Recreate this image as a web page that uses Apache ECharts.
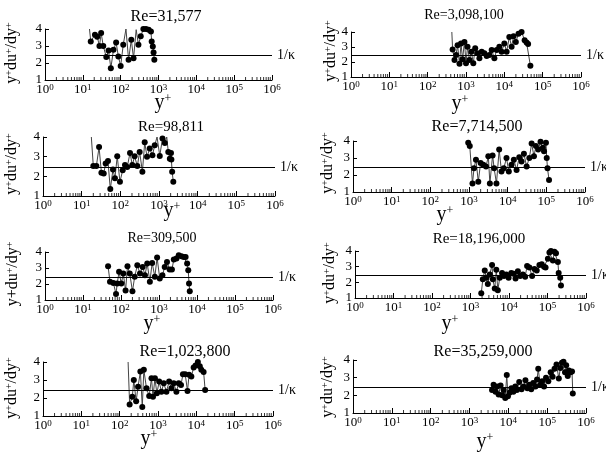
<!DOCTYPE html>
<html><head><meta charset="utf-8">
<script src="https://cdn.jsdelivr.net/npm/echarts@6/dist/echarts.min.js"></script>
<style>html,body{margin:0;padding:0;background:#fff}#c{width:606px;height:453px}</style>
</head><body><div id="c"></div>
<script>
// ---- data ----
const titles = ['Re=31,577','Re=3,098,100','Re=98,811','Re=7,714,500','Re=309,500','Re=18,196,000','Re=1,023,800','Re=35,259,000'];
const kappaInv = 2.44;
const xTickExponents = [0,1,2,3,4,5,6];
const yTicks = [1,2,3,4];

const p1x = [15,16.2,20.9,24,27.5,30.5,34.7,41.7,47.9,55,64.6,75.9,87,100,117,138,162,191,219,257,295,339,398,468,550,631,661,708,741,776];
const p1y = [4.0,3.27,3.66,3.55,3.0,3.76,3.0,2.35,2.74,1.69,2.78,3.2,2.38,1.83,3.07,4.0,2.19,3.37,2.28,3.96,3.07,3.57,4.0,4.0,3.96,3.86,3.27,2.97,2.62,2.19];
const p1bare = [0,15,19];

const p2x = [427,447,501,550,603,676,741,813,912,1000,1096,1230,1380,1549,1738,1995,2239,2570,3020,3467,4074,4677,5495,6310,7413,8511,10000,11482,13490,15488,17378,19953,23442,28184,33884,38019,41687,47863];
const p2y = [4.0,2.84,2.14,2.47,3.12,1.88,3.23,2.18,3.34,1.92,3.02,2.14,2.69,1.92,2.91,2.58,2.25,2.69,2.58,2.40,2.47,2.80,2.25,2.80,3.02,2.69,3.23,2.69,3.67,3.02,3.72,3.34,3.89,4.0,3.45,3.3,3.2,1.75];
const p2bare = [0];

const p3x = [17.8,20,24,28.2,32.4,37.2,41.7,47.9,55,64.6,72.4,83.2,97.7,115,132,151,178,204,234,275,316,372,427,490,575,676,776,891,1047,1230,1413,1585,1738,1905,2042,2089,2188,2344];
const p3y = [4.0,2.52,2.52,3.49,2.18,2.15,2.65,2.78,1.35,2.35,1.9,3.02,1.72,2.31,2.57,2.48,3.19,2.57,3.02,2.52,3.24,2.23,3.73,2.99,3.41,3.07,3.58,4.0,3.04,3.92,3.70,4.0,3.24,2.9,3.19,2.85,2.23,1.72];
const p3bare = [0,27,31];

const p4x = [955,1047,1230,1349,1514,1738,1995,2344,2754,3162,3467,4074,4467,5129,6026,6918,7943,9333,10715,12589,14454,16982,19953,22909,26303,30903,36308,41687,47863,53703,61660,70795,81283,87096,97724,102329,107152,117490];
const p4y = [3.9,3.7,1.5,2.4,2.9,1.6,2.7,2.6,2.5,3.1,1.5,3.15,2.4,1.5,3.5,2.2,2.4,3.0,2.2,2.6,2.9,2.3,3.05,2.8,3.25,2.5,3.0,3.85,3.1,3.7,3.5,3.95,3.6,3.4,3.9,3.0,2.4,1.7];
const p4bare = [];

const p5x = [45.7,51.3,63,74,79.4,89,102,115,132,148,170,200,229,269,316,372,427,490,575,661,776,891,1047,1230,1413,1622,1905,2188,2455,2884,3311,3890,4467,5012,5495,5888,6166,6457];
const p5y = [3.11,2.14,2.07,1.37,2.03,2.76,2.03,2.65,1.59,3.11,2.65,1.55,2.45,3.17,2.65,3.07,2.55,3.28,2.14,3.32,2.45,3.65,2.34,2.55,3.07,3.38,2.90,2.90,3.53,3.59,3.79,3.73,3.69,3.69,3.28,2.86,2.03,1.55];
const p5bare = [];

const p6x = [1905,2089,2344,2570,2818,3162,3631,3802,4266,4677,5129,5754,6607,7413,8511,9772,11482,13183,14791,16982,19498,22909,26303,29512,33884,39811,45709,52481,61660,70795,81283,89125,102329,112202,123027,138038,151356,165959,186209,194984,213796,223872];
const p6y = [1.3,2.2,2.75,2.3,1.9,2.5,3.1,2.2,1.6,2.8,1.5,2.3,2.6,2.4,2.5,2.3,2.6,2.55,2.25,2.7,2.4,2.5,2.35,3.05,2.95,2.4,2.85,2.75,3.1,3.15,3.0,2.95,3.5,3.9,4.0,3.4,3.95,3.85,3.3,2.6,2.3,1.8];
const p6bare = [];

const p7x = [166,182,214,234,269,302,347,389,427,501,589,676,741,832,933,1072,1230,1413,1660,1950,2239,2570,3020,3467,3981,4467,5129,5888,6457,7413,8511,9550,10965,12303,13490,15488,16982];
const p7y = [4.0,1.64,2.07,3.0,1.82,2.63,3.47,1.50,3.57,2.54,2.11,3.1,2.07,3.1,2.26,2.91,2.35,2.82,2.35,2.91,2.54,2.82,2.35,2.82,2.72,3.32,3.32,2.39,3.29,3.19,3.70,3.81,4.0,3.76,3.57,3.44,2.44];
const p7bare = [0];

const p8x = [3802,4169,4677,5129,5623,6310,6918,7586,8318,9120,9772,10715,12023,13490,15136,16596,19055,21878,24547,27542,30903,34674,38905,43652,50119,54954,58884,66069,74131,83176,93325,107152,123027,138038,154882,173780,199526,218776,239883,263027,288403,309030,338844,363078,398107,436516,457088];
const p8y = [2.3,2.6,2.2,2.5,2.05,2.55,2.0,2.3,1.85,3.15,1.95,2.15,2.4,2.2,2.5,2.3,2.75,2.35,2.5,2.85,2.4,2.6,2.35,2.7,2.5,2.9,3.5,2.6,2.8,2.5,3.0,2.8,3.3,3.05,3.5,3.75,2.95,3.55,3.85,3.9,3.3,3.7,3.1,3.4,3.3,3.35,2.1];
const p8bare = [];

const minorMultipliers = [2,3,4,5,6,7,8,9];
const decades = [1,10,100,1000,10000,100000];

// ---- layout (pixels) ----
const layout = [
 {l:45, t:29, w:227,h:51, tx:166,ty:17, tf:16, yx:12, yy:53, px:163,py:103},
 {l:351,t:32, w:230,h:45, tx:464,ty:15, tf:14, yx:331,yy:51, px:460,py:104},
 {l:43, t:137,w:232,h:59, tx:171,ty:127,tf:15, yx:12, yy:164,px:172,py:211},
 {l:353,t:141,w:232,h:51, tx:477,ty:127,tf:16, yx:328,yy:163,px:445,py:215},
 {l:45, t:252,w:228,h:48, tx:162,ty:238,tf:14, yx:13, yy:274,px:152,py:324},
 {l:355,t:251,w:231,h:47, tx:479,ty:239,tf:15, yx:330,yy:273,px:450,py:324},
 {l:43, t:362,w:230,h:54, tx:185,ty:352,tf:16, yx:12, yy:388,px:149,py:439},
 {l:353,t:360,w:233,h:53, tx:483,ty:352,tf:16, yx:328,yy:387,px:485,py:442}
];
const seriesX = [p1x,p2x,p3x,p4x,p5x,p6x,p7x,p8x];
const seriesY = [p1y,p2y,p3y,p4y,p5y,p6y,p7y,p8y];
const bares = [p1bare,p2bare,p3bare,p4bare,p5bare,p6bare,p7bare,p8bare];
const yLabelRich = [
 '{n|y}{s|+}{n|du}{s|+}{n|/dy}{s|+}','{n|y}{s|+}{n|du}{s|+}{n|/dy}{s|+}',
 '{n|y}{s|+}{n|du}{s|+}{n|/dy}{s|+}','{n|y}{s|+}{n|du}{s|+}{n|/dy}{s|+}',
 '{n|y+du}{s|+}{n|/dy}{s|+}','{n|y}{s|+}{n|du}{s|+}{n|/dy}{s|+}',
 '{n|y}{s|+}{n|du}{s|+}{n|/dy}{s|+}','{n|y}{s|+}{n|du}{s|+}{n|/dy}{s|+}'
];

const FF = "'Liberation Serif','DejaVu Serif',serif";
const minorVals = [];
decades.forEach(d => minorMultipliers.forEach(m => minorVals.push(m*d)));

const grids=[], xAxes=[], yAxes=[], series=[], graphics=[];
layout.forEach((L,i) => {
  grids.push({left:L.l, top:L.t, width:L.w, height:L.h});
  xAxes.push({
    gridIndex:i, type:'log', logBase:10, min:1, max:1e6, splitNumber:6,
    axisLine:{show:true, onZero:false, lineStyle:{color:'#000', width:1}},
    axisTick:{show:true, inside:true, length:5, lineStyle:{color:'#000', width:1}},
    minorTick:{show:false}, splitLine:{show:false},
    axisLabel:{margin:3, color:'#000',
      formatter: v => '{b|10}{s|' + Math.round(Math.log10(v)) + '}',
      rich:{b:{fontSize:13, fontFamily:FF, color:'#000'}, s:{fontSize:9, fontFamily:FF, color:'#000', verticalAlign:'top'}}}
  });
  yAxes.push({
    gridIndex:i, type:'value', min:1, max:4, interval:1,
    axisLine:{show:true, lineStyle:{color:'#000', width:1}},
    axisTick:{show:true, inside:true, length:4, lineStyle:{color:'#000'}},
    splitLine:{show:false},
    axisLabel:{margin:3, fontSize:13, fontFamily:FF, color:'#000'}
  });
  series.push({
    type:'scatter', xAxisIndex:i, yAxisIndex:i, silent:true, clip:false,
    symbol:'rect', symbolSize:[1,3], symbolOffset:[0,-1.5],
    itemStyle:{color:'#000'}, data: minorVals.map(v => [v, 1]), z:1
  });
  series.push({
    type:'line', xAxisIndex:i, yAxisIndex:i, clip:false,
    data: seriesX[i].map((x,j) => ({value:[x, seriesY[i][j]], symbol: bares[i].includes(j) ? 'none' : 'circle'})),
    symbol:'circle', symbolSize:6, showSymbol:true,
    lineStyle:{color:'#444', width:1}, itemStyle:{color:'#000'},
    markLine:{silent:true, symbol:['none','none'], animation:false,
      lineStyle:{color:'#000', width:1, type:'solid'},
      label:{show:true, position:'end', formatter:'1/κ', color:'#000', fontSize:14, fontFamily:FF, distance:5},
      data:[{yAxis:kappaInv}]}
  });
  graphics.push({type:'text', x:L.tx, y:L.ty, style:{text:titles[i], fontSize:L.tf, fontFamily:FF, fill:'#000',
    align:'center', verticalAlign:'middle', textAlign:'center', textVerticalAlign:'middle'}});
  graphics.push({type:'text', x:L.px, y:L.py, style:{text:'{n|y}{s|+}', fill:'#000',
    align:'center', verticalAlign:'middle', textAlign:'center', textVerticalAlign:'middle',
    rich:{n:{fontSize:20, fontFamily:FF, fill:'#000'}, s:{fontSize:12, fontFamily:FF, fill:'#000', verticalAlign:'top'}}}});
  graphics.push({type:'text', x:L.yx, y:L.yy, rotation:Math.PI/2, style:{text:yLabelRich[i], fill:'#000',
    align:'center', verticalAlign:'middle', textAlign:'center', textVerticalAlign:'middle',
    rich:{n:{fontSize:16, lineHeight:16, fontFamily:FF, fill:'#000'}, s:{fontSize:10, lineHeight:10, fontFamily:FF, fill:'#000', verticalAlign:'top'}}}});
});

const chart = echarts.init(document.getElementById('c'), null, {renderer:'canvas'});
chart.setOption({
  animation:false, backgroundColor:'#fff',
  grid:grids, xAxis:xAxes, yAxis:yAxes, series:series, graphic:graphics
});
</script></body></html>
